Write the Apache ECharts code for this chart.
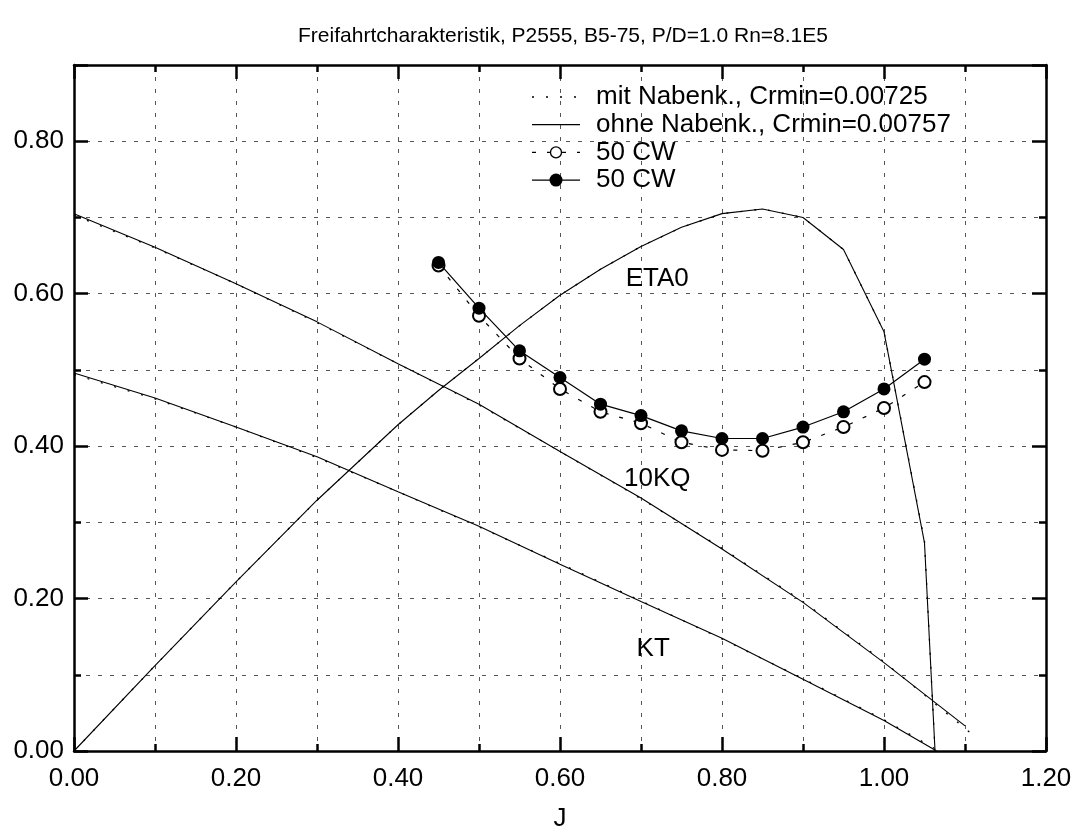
<!DOCTYPE html>
<html><head><meta charset="utf-8">
<script src="https://cdn.jsdelivr.net/npm/echarts@6/dist/echarts.min.js"></script>
<style>html,body{margin:0;padding:0;background:#fff}#c{width:1082px;height:837px}</style>
</head><body><div id="c"></div>
<script>
const TITLE = 'Freifahrtcharakteristik, P2555, B5-75, P/D=1.0 Rn=8.1E5';
const X_NAME = 'J';
const NAME_MIT = 'mit Nabenk., Crmin=0.00725';
const NAME_OHNE = 'ohne Nabenk., Crmin=0.00757';
const NAME_CW_OPEN = '50 CW';
const NAME_CW_FILLED = '50 CW';
const CURVE_LABELS = ['ETA0', '10KQ', 'KT'];

// KT
const J_KT = [0, 0.1, 0.2, 0.3, 0.4, 0.5, 0.6, 0.7, 0.8, 0.9, 1.0, 1.065];
const KT_ohne = [0.496, 0.463, 0.425, 0.386, 0.340, 0.295, 0.245, 0.196, 0.148, 0.094, 0.040, 0.0];
const J_KT_mit = [0, 0.1, 0.2, 0.3, 0.4, 0.5, 0.6, 0.7, 0.8, 0.9, 1.0, 1.068];
const KT_mit = [0.494, 0.462, 0.425, 0.385, 0.340, 0.294, 0.246, 0.197, 0.147, 0.095, 0.041, 0.0];
// 10KQ
const J_KQ = [0, 0.1, 0.2, 0.3, 0.4, 0.5, 0.6, 0.7, 0.8, 0.9, 1.0, 1.1];
const KQ10_ohne = [0.705, 0.661, 0.613, 0.563, 0.508, 0.455, 0.393, 0.332, 0.265, 0.195, 0.116, 0.033];
const J_KQ_mit = [0, 0.1, 0.2, 0.3, 0.4, 0.5, 0.6, 0.7, 0.8, 0.9, 1.0, 1.11];
const KQ10_mit = [0.703, 0.660, 0.613, 0.562, 0.508, 0.454, 0.393, 0.331, 0.266, 0.196, 0.117, 0.021];
// ETA0
const J_ETA = [0, 0.1, 0.2, 0.3, 0.4, 0.45, 0.5, 0.55, 0.6, 0.65, 0.7, 0.75, 0.8, 0.85, 0.9, 0.95, 1.0, 1.05, 1.063];
const ETA_ohne = [0, 0.112, 0.222, 0.329, 0.428, 0.473, 0.515, 0.558, 0.598, 0.632, 0.662, 0.687, 0.705, 0.711, 0.700, 0.658, 0.550, 0.273, 0.0];
const ETA_mit = [0, 0.112, 0.222, 0.329, 0.428, 0.473, 0.515, 0.558, 0.598, 0.632, 0.662, 0.687, 0.705, 0.711, 0.700, 0.658, 0.550, 0.275, 0.0];
// 50 CW measurements
const J_CW = [0.45, 0.5, 0.55, 0.6, 0.65, 0.7, 0.75, 0.8, 0.85, 0.9, 0.95, 1.0, 1.05];
const CW_open = [0.637, 0.571, 0.515, 0.475, 0.445, 0.430, 0.405, 0.395, 0.394, 0.405, 0.425, 0.450, 0.484];
const CW_filled = [0.641, 0.581, 0.525, 0.490, 0.455, 0.440, 0.420, 0.410, 0.410, 0.425, 0.445, 0.475, 0.514];

const FONT = '"Liberation Sans", Arial, sans-serif';
const pairs = (xs, ys) => xs.map((x, i) => [x, ys[i]]);

const chart = echarts.init(document.getElementById('c'), null, {renderer: 'canvas'});

const DOT = [2, 12];
const DASH = [4, 11];
const dotted = {color: '#000', width: 1.3, type: DOT};
const solid = {color: '#000', width: 1.1, type: 'solid'};

function lineSeries(name, data, ls, z) {
  return {name, type: 'line', data, showSymbol: false, symbol: 'none', lineStyle: ls,
          itemStyle: {color: '#000'}, z: z, animation: false, silent: true};
}

const gridDash = {color: '#555', width: 1, type: [4, 8]};

function xAx(pos, interval, tickLen, opts) {
  return Object.assign({
    type: 'value', position: pos, min: 0, max: 1.2, interval: interval,
    axisLine: {show: false, onZero: false},
    axisTick: {show: true, inside: true, length: tickLen, lineStyle: {color: '#000', width: 2.5}},
    axisLabel: {show: false}, splitLine: {show: false}
  }, opts || {});
}
function yAx(pos, interval, tickLen, opts) {
  return Object.assign({
    type: 'value', position: pos, min: 0, max: 0.9, interval: interval,
    axisLine: {show: false, onZero: false},
    axisTick: {show: true, inside: true, length: tickLen, lineStyle: {color: '#000', width: 2.5}},
    axisLabel: {show: false}, splitLine: {show: false}
  }, opts || {});
}

const option = {
  backgroundColor: '#fff',
  animation: false,
  textStyle: {fontFamily: FONT},
  grid: {left: 74, top: 65, right: 36, bottom: 85, containLabel: false},
  xAxis: [
    xAx('bottom', 0.2, 14, {
      axisLine: {show: true, onZero: false, lineStyle: {color: '#000', width: 2.5}},
      axisLabel: {show: true, margin: 15, color: '#000', fontSize: 26, fontFamily: FONT,
                  formatter: v => v.toFixed(2), showMinLabel: true, showMaxLabel: true},
      name: X_NAME, nameLocation: 'middle', nameGap: 55,
      nameTextStyle: {color: '#000', fontSize: 26, fontFamily: FONT}
    }),
    xAx('bottom', 0.1, 7, {splitLine: {show: true, lineStyle: gridDash}}),
    xAx('top', 0.2, 14, {axisLine: {show: true, onZero: false, lineStyle: {color: '#000', width: 2.5}}}),
    xAx('top', 0.1, 7)
  ],
  yAxis: [
    yAx('left', 0.2, 14, {
      axisLine: {show: true, onZero: false, lineStyle: {color: '#000', width: 2.5}},
      axisLabel: {show: true, margin: 10, color: '#000', fontSize: 26, fontFamily: FONT,
                  formatter: v => (v > 0.85 ? '' : v.toFixed(2))}
    }),
    yAx('left', 0.1, 7, {splitLine: {show: true, lineStyle: gridDash}}),
    yAx('right', 0.2, 14, {axisLine: {show: true, onZero: false, lineStyle: {color: '#000', width: 2.5}}}),
    yAx('right', 0.1, 7)
  ],
  series: [
    lineSeries(NAME_MIT, pairs(J_KT_mit, KT_mit), dotted, 2),
    lineSeries(NAME_MIT, pairs(J_KQ_mit, KQ10_mit), dotted, 2),
    lineSeries(NAME_MIT, pairs(J_ETA, ETA_mit), dotted, 2),
    lineSeries(NAME_OHNE, pairs(J_KT, KT_ohne), solid, 3),
    lineSeries(NAME_OHNE, pairs(J_KQ, KQ10_ohne), solid, 3),
    lineSeries(NAME_OHNE, pairs(J_ETA, ETA_ohne), solid, 3),
    {name: NAME_CW_OPEN, type: 'line', data: pairs(J_CW, CW_open), symbol: 'emptyCircle', symbolSize: 12,
     showSymbol: true, lineStyle: {color: '#000', width: 1.2, type: DASH},
     itemStyle: {color: '#000', borderColor: '#000', borderWidth: 1.3}, z: 4, animation: false, silent: true},
    {name: NAME_CW_FILLED, type: 'line', data: pairs(J_CW, CW_filled), symbol: 'circle', symbolSize: 13,
     showSymbol: true, lineStyle: {color: '#000', width: 1.2, type: 'solid'},
     itemStyle: {color: '#000', borderColor: '#000', borderWidth: 0}, z: 5, animation: false, silent: true}
  ]
};
chart.setOption(option);

// legend drawn as graphic (sample line, optional marker, text)
const LEG_X0 = 532, LEG_X1 = 580, LEG_TX = 596, LEG_Y0 = 97, LEG_DY = 27.7;
const legendRows = [
  {text: NAME_MIT, dash: DOT, marker: null},
  {text: NAME_OHNE, dash: null, marker: null},
  {text: NAME_CW_OPEN, dash: DASH, marker: 'open'},
  {text: NAME_CW_FILLED, dash: null, marker: 'filled'}
];
const legendGraphics = [];
legendRows.forEach((r, i) => {
  const y = LEG_Y0 + i * LEG_DY;
  legendGraphics.push({type: 'line', shape: {x1: LEG_X0, y1: y, x2: LEG_X1, y2: y},
    style: {stroke: '#000', lineWidth: r.dash ? 1.3 : 1.2, lineDash: r.dash || null}, z: 10});
  if (r.marker === 'open') {
    legendGraphics.push({type: 'circle', shape: {cx: (LEG_X0 + LEG_X1) / 2, cy: y, r: 5.5},
      style: {fill: '#fff', stroke: '#000', lineWidth: 1.3}, z: 11});
  } else if (r.marker === 'filled') {
    legendGraphics.push({type: 'circle', shape: {cx: (LEG_X0 + LEG_X1) / 2, cy: y, r: 6.5},
      style: {fill: '#000'}, z: 11});
  }
  legendGraphics.push({type: 'text', x: LEG_TX, y: y,
    style: {text: r.text, fill: '#000', font: '26px ' + FONT, textAlign: 'left', textVerticalAlign: 'middle'}, z: 11});
});

// curve labels placed in data coordinates
const LABEL_POS = [[0.72, 0.62], [0.72, 0.357], [0.715, 0.134]];
const labelGraphics = CURVE_LABELS.map((t, i) => {
  const p = chart.convertToPixel({xAxisIndex: 0, yAxisIndex: 0}, LABEL_POS[i]);
  return {type: 'text', x: p[0], y: p[1], style: {text: t, fill: '#000', font: '26px ' + FONT, textAlign: 'center', textVerticalAlign: 'middle'}, z: 11};
});

chart.setOption({
  graphic: [
    {type: 'text', x: 563, y: 36, style: {text: TITLE, fill: '#000', font: '21px ' + FONT, textAlign: 'center', textVerticalAlign: 'middle'}, z: 11}
  ].concat(legendGraphics, labelGraphics)
});
</script></body></html>
